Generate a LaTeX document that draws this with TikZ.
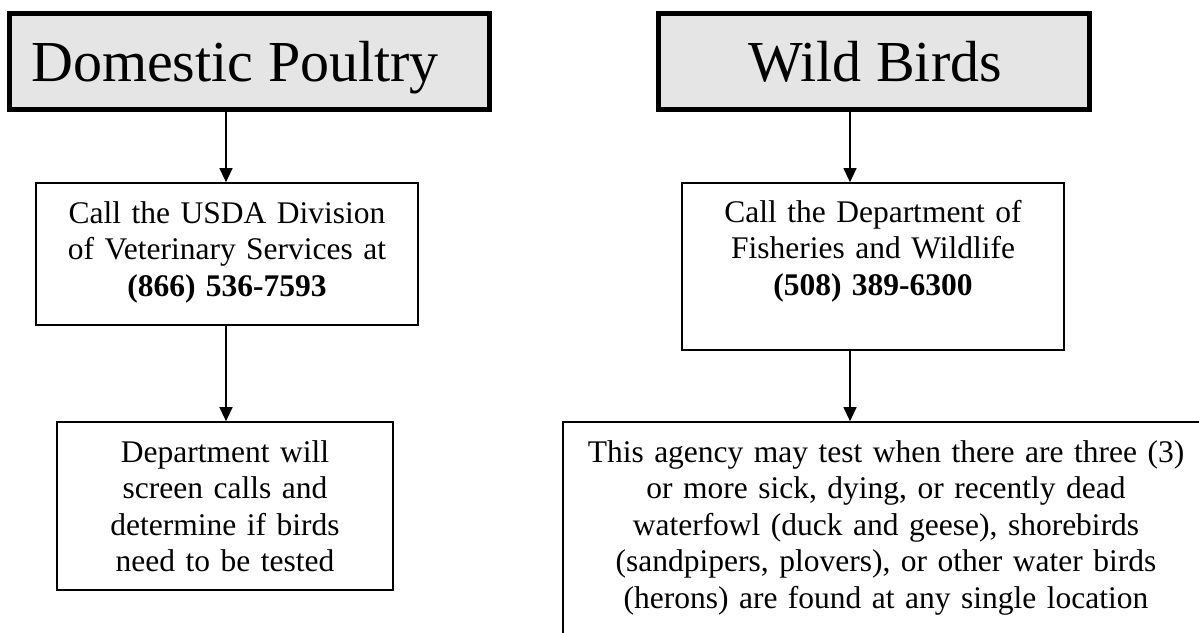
\documentclass[tikz,border=0pt]{standalone}
\usepackage{fontspec}
\setmainfont{Liberation Serif}
\usetikzlibrary{arrows.meta}
\definecolor{titlefill}{RGB}{229,229,229}
\begin{document}
\begin{tikzpicture}[x=1pt,y=-1pt,
  titlebox/.style={draw=black, line width=5pt, fill=titlefill, inner sep=0pt},
  infobox/.style={draw=black, line width=1.7pt, inner sep=0pt},
  titletext/.style={inner sep=0pt, font=\fontsize{58}{60}\selectfont},
  bodytext/.style={inner sep=0pt, text width=640pt, align=center, anchor=base, font=\fontsize{31.5}{36.5}\selectfont},
  arr/.style={line width=1.3pt, -{Triangle[length=14pt,width=13pt]}}
]
\useasboundingbox (0,0) rectangle (1199,632);
\clip (0,0) rectangle (1199,632);
\fill[white] (0,0) rectangle (1199,632);

% title boxes
\node[titlebox, minimum width=480pt, minimum height=96pt] (dp) at (249.5,61.5) {};
\node[titletext, anchor=base west] (dptext) at (31,81) {Domestic Poultry};
\node[titlebox, minimum width=431pt, minimum height=96pt] (wb) at (874,61.5) {};
\node[titletext, anchor=base] (wbtext) at (875,81) {Wild Birds};

% left column
\node[infobox, minimum width=382pt, minimum height=142pt] (usda) at (227,254) {};
\node[bodytext] (usdatext) at (227,223) {Call the USDA Division\\of Veterinary Services at\\\textbf{(866) 536-7593}};
\node[infobox, minimum width=336pt, minimum height=168pt] (dept) at (225,506) {};
\node[bodytext] (depttext) at (225,462) {Department will\\screen calls and\\determine if birds\\need to be tested};

% right column
\node[infobox, minimum width=382pt, minimum height=167pt] (dfw) at (873,266.5) {};
\node[bodytext] (dfwtext) at (873,222) {Call the Department of\\Fisheries and Wildlife\\\textbf{(508) 389-6300}};
\node[infobox, minimum width=646pt, minimum height=258pt] (agency) at (886,551) {};
\node[bodytext] (agencytext) at (886,462) {This agency may test when there are three (3)\\or more sick, dying, or recently dead\\waterfowl (duck and geese), shorebirds\\(sandpipers, plovers), or other water birds\\(herons) are found at any single location};

% connectors
\coordinate (ax) at (226,0);
\coordinate (bx) at (850,0);
\draw[arr] (dp.south -| ax) -- (usda.north -| ax);
\draw[arr] (usda.south -| ax) -- (dept.north -| ax);
\draw[arr] (wb.south -| bx) -- (dfw.north -| bx);
\draw[arr] (dfw.south -| bx) -- (agency.north -| bx);
\end{tikzpicture}
\end{document}
